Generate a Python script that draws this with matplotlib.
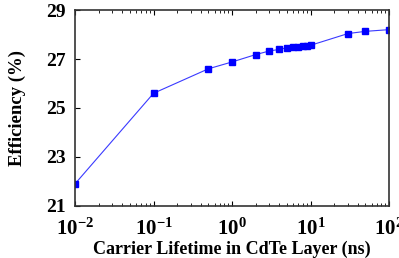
import numpy as np
import matplotlib
matplotlib.use("Agg")
from matplotlib import pyplot as plt
from matplotlib.ticker import FuncFormatter

# carrier lifetime (ns) vs efficiency (%)
lifetime = [0.01, 0.1, 0.5, 1, 2, 3, 4, 5, 6, 7, 8, 9, 10, 30, 50, 100]
efficiency = [21.9, 25.6, 26.6, 26.88, 27.18, 27.33, 27.39, 27.46, 27.49, 27.51,
              27.53, 27.55, 27.56, 28.04, 28.13, 28.2]
yticks = [21, 23, 25, 27, 29]

plt.rcParams['font.family'] = ['Liberation Serif', 'DejaVu Serif']
plt.rcParams['font.weight'] = 'bold'
plt.rcParams['mathtext.fontset'] = 'custom'
plt.rcParams['mathtext.rm'] = 'Liberation Serif:bold'
plt.rcParams['mathtext.it'] = 'Liberation Serif:bold'
plt.rcParams['mathtext.bf'] = 'Liberation Serif:bold'

fig = plt.figure(figsize=(3.99, 2.58), dpi=100)
ax = fig.add_axes([0.188, 0.202, 0.787, 0.759])

ax.plot(lifetime, efficiency, color='#3a3aff', lw=0.8,
        marker='s', ms=4, mfc='#0000ff', mec='#0000ff')

ax.set_xscale('log')
ax.set_xlim(0.01, 100)
ax.set_ylim(21, 29)
ax.set_yticks(yticks)
ax.xaxis.set_major_formatter(FuncFormatter(lambda v, p: r'$\mathrm{10^{%d}}$' % round(np.log10(v))))
ax.tick_params(axis='y', direction='in', labelsize=14, right=False, pad=7)
ax.tick_params(axis='x', direction='in', labelsize=15, top=True, pad=9)
ax.tick_params(axis='x', which='minor', direction='in', top=True, length=2)
for lab in ax.get_yticklabels():
    lab.set_fontweight('bold')
for s in ax.spines.values():
    s.set_linewidth(1.2)
    s.set_color('#333333')

ax.set_xlabel('Carrier Lifetime in CdTe Layer (ns)', fontsize=13, fontweight='bold', labelpad=1)
ax.set_ylabel('Efficiency (%)', fontsize=13.5, fontweight='bold', labelpad=14)

fig.savefig('out.png', dpi=100)
